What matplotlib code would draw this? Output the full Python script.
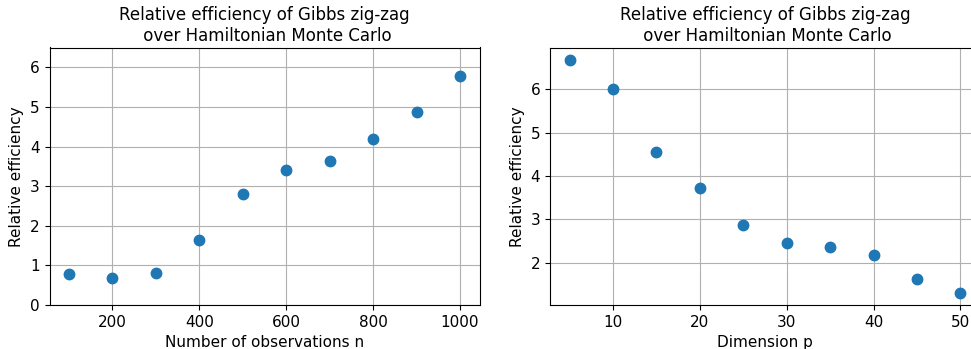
import matplotlib
matplotlib.use('Agg')
import matplotlib.pyplot as plt

# ── data ─────────────────────────────────────────────────────────────────────
n_obs = [100, 200, 300, 400, 500, 600, 700, 800, 900, 1000]
eff_n = [0.77, 0.69, 0.82, 1.65, 2.79, 3.41, 3.64, 4.18, 4.87, 5.77]

dim_p = [5, 10, 15, 20, 25, 30, 35, 40, 45, 50]
eff_p = [6.68, 6.02, 4.55, 3.72, 2.87, 2.46, 2.35, 2.18, 1.63, 1.29]

TITLE = 'Relative efficiency of Gibbs zig-zag\n over Hamiltonian Monte Carlo'
FS = 11

plt.rcParams['font.size'] = FS

fig = plt.figure(figsize=(9.71, 3.49), dpi=100)
W, H = 971, 349

ax1 = fig.add_axes([49.5 / W, 1 - 305 / H, (479.5 - 49.5) / W, (305 - 47.5) / H])
ax2 = fig.add_axes([550 / W, 1 - 305 / H, (980 - 550) / W, (305 - 47.5) / H])

ax1.plot(n_obs, eff_n, 'o', color='#1f77b4', markersize=7.5)
ax1.set_ylim(0, 6.5)
ax1.set_xlabel('Number of observations n')

ax2.plot(dim_p, eff_p, 'o', color='#1f77b4', markersize=7.5)
ax2.set_ylim(1.02, 6.97)
ax2.set_yticks([2, 3, 4, 5, 6])
ax2.set_xlabel('Dimension p')

for ax in (ax1, ax2):
    ax.set_title(TITLE, fontsize=12, pad=5)
    ax.set_ylabel('Relative efficiency')
    ax.grid(True)
    ax.set_axisbelow(True)

fig.savefig('out.png', dpi=100)
